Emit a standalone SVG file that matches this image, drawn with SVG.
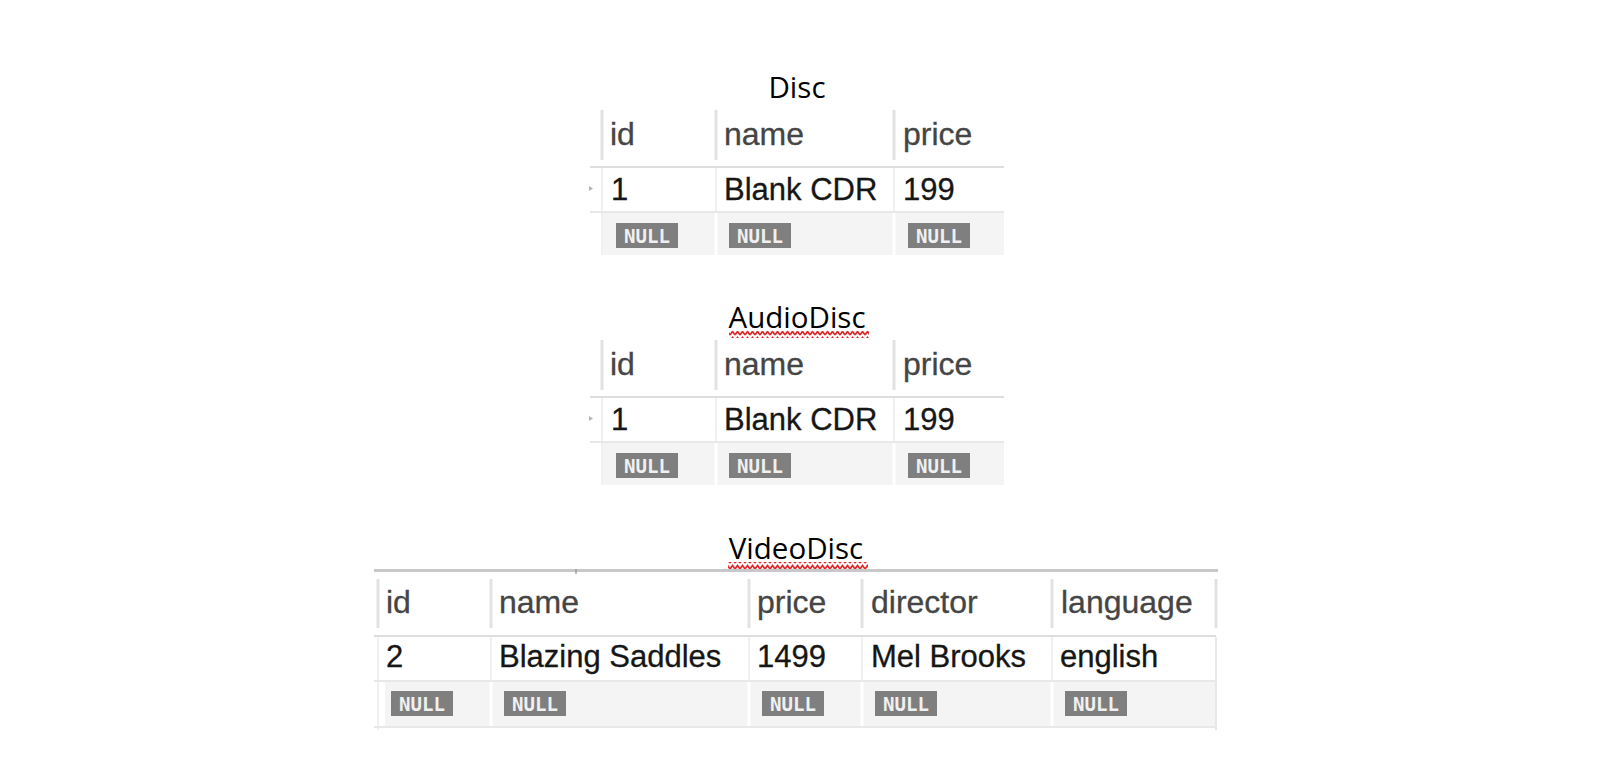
<svg xmlns="http://www.w3.org/2000/svg" width="1602" height="772" viewBox="0 0 1602 772">
<style>
.title{font-family:"Open Sans","Liberation Sans",sans-serif;font-size:29.5px;fill:#000;text-anchor:middle}
.hd{font-family:"Liberation Sans",Arial,sans-serif;font-size:32px;fill:#454545;stroke:#454545;stroke-width:0.3}
.dt{font-family:"Liberation Sans",Arial,sans-serif;font-size:31px;fill:#161616;stroke:#161616;stroke-width:0.3}
.vsep{stroke:#e2e2e2;stroke-width:3}
.hline{stroke:#dedede;stroke-width:2}
.rline{stroke:#e8e8e8;stroke-width:2}
.faint{stroke:#f0f0f0;stroke-width:2}
.nullbg{fill:#f4f4f4}
.wsep{stroke:#ffffff;stroke-width:3}
.badge{fill:#7f7f7f}
.nt{font-family:"DejaVu Sans Mono",monospace;font-weight:bold;font-size:20px;fill:#f0f0f0}
.tri{fill:#b4b4b4}
</style>
<defs>
<pattern id="sq" width="5" height="6" patternUnits="userSpaceOnUse">
<path d="M0,5 L2.5,1.5 L5,5" fill="none" stroke="#e02828" stroke-width="1.6"/>
</pattern>
<g id="nb"><rect class="badge" x="0" y="0" width="62" height="25"/><text class="nt" x="8" y="19.5" textLength="46" lengthAdjust="spacingAndGlyphs">NULL</text></g>
</defs>
<rect width="1602" height="772" fill="#ffffff"/>

<g id="disc">
<text class="title" x="797" y="98">Disc</text>
<rect class="nullbg" x="603" y="213" width="401" height="42"/>
<line class="vsep" x1="602" y1="110" x2="602" y2="160"/>
<line class="vsep" x1="716" y1="110" x2="716" y2="160"/>
<line class="vsep" x1="894" y1="110" x2="894" y2="160"/>
<line class="faint" x1="602" y1="168" x2="602" y2="255"/>
<line class="faint" x1="716" y1="168" x2="716" y2="212"/>
<line class="faint" x1="894" y1="168" x2="894" y2="212"/>
<line class="wsep" x1="716" y1="213" x2="716" y2="255"/>
<line class="wsep" x1="894" y1="213" x2="894" y2="255"/>
<line class="hline" x1="590" y1="167" x2="1004" y2="167"/>
<line class="rline" x1="590" y1="212" x2="1004" y2="212"/>
<text class="hd" x="610" y="145">id</text>
<text class="hd" x="724" y="145">name</text>
<text class="hd" x="903" y="145">price</text>
<path class="tri" d="M589,186 L593,188.5 L589,191 Z"/>
<text class="dt" x="611" y="200">1</text>
<text class="dt" x="724" y="200">Blank CDR</text>
<text class="dt" x="903" y="200">199</text>
<use href="#nb" x="616" y="223"/>
<use href="#nb" x="729" y="223"/>
<use href="#nb" x="908" y="223"/>
</g>

<g id="audiodisc">
<text class="title" x="797" y="328">AudioDisc</text>
<rect x="729" y="331" width="140" height="7" fill="url(#sq)"/>
<rect class="nullbg" x="603" y="443" width="401" height="42"/>
<line class="vsep" x1="602" y1="340" x2="602" y2="390"/>
<line class="vsep" x1="716" y1="340" x2="716" y2="390"/>
<line class="vsep" x1="894" y1="340" x2="894" y2="390"/>
<line class="faint" x1="602" y1="398" x2="602" y2="485"/>
<line class="faint" x1="716" y1="398" x2="716" y2="442"/>
<line class="faint" x1="894" y1="398" x2="894" y2="442"/>
<line class="wsep" x1="716" y1="443" x2="716" y2="485"/>
<line class="wsep" x1="894" y1="443" x2="894" y2="485"/>
<line class="hline" x1="590" y1="397" x2="1004" y2="397"/>
<line class="rline" x1="590" y1="442" x2="1004" y2="442"/>
<text class="hd" x="610" y="375">id</text>
<text class="hd" x="724" y="375">name</text>
<text class="hd" x="903" y="375">price</text>
<path class="tri" d="M589,416 L593,418.5 L589,421 Z"/>
<text class="dt" x="611" y="430">1</text>
<text class="dt" x="724" y="430">Blank CDR</text>
<text class="dt" x="903" y="430">199</text>
<use href="#nb" x="616" y="453"/>
<use href="#nb" x="729" y="453"/>
<use href="#nb" x="908" y="453"/>
</g>

<g id="videodisc">
<text class="title" x="796" y="559">VideoDisc</text>
<rect x="728" y="562" width="140" height="7" fill="url(#sq)"/>
<line x1="374" y1="570.5" x2="1218" y2="570.5" stroke="#c8c8c8" stroke-width="3"/>
<line x1="576" y1="569" x2="576" y2="574" stroke="#808080" stroke-width="1"/>
<rect class="nullbg" x="385" y="682" width="830" height="44"/>
<line class="vsep" x1="378" y1="579" x2="378" y2="628"/>
<line class="vsep" x1="491" y1="579" x2="491" y2="628"/>
<line class="vsep" x1="749" y1="579" x2="749" y2="628"/>
<line class="vsep" x1="862" y1="579" x2="862" y2="628"/>
<line class="vsep" x1="1052" y1="579" x2="1052" y2="628"/>
<line class="vsep" x1="1216" y1="579" x2="1216" y2="628"/>
<line class="faint" x1="378" y1="637" x2="378" y2="730"/>
<line class="faint" x1="491" y1="637" x2="491" y2="681"/>
<line class="faint" x1="749" y1="637" x2="749" y2="681"/>
<line class="faint" x1="862" y1="637" x2="862" y2="681"/>
<line class="faint" x1="1052" y1="637" x2="1052" y2="681"/>
<line class="rline" x1="1216" y1="637" x2="1216" y2="730"/>
<line class="wsep" x1="491" y1="682" x2="491" y2="726"/>
<line class="wsep" x1="749" y1="682" x2="749" y2="726"/>
<line class="wsep" x1="862" y1="682" x2="862" y2="726"/>
<line class="wsep" x1="1052" y1="682" x2="1052" y2="726"/>
<line class="hline" x1="374" y1="636" x2="1216" y2="636"/>
<line class="rline" x1="374" y1="681" x2="1216" y2="681"/>
<line class="rline" x1="374" y1="727" x2="1216" y2="727"/>
<text class="hd" x="386" y="613">id</text>
<text class="hd" x="499" y="613">name</text>
<text class="hd" x="757" y="613">price</text>
<text class="hd" x="871" y="613">director</text>
<text class="hd" x="1061" y="613">language</text>
<text class="dt" x="386" y="667">2</text>
<text class="dt" x="499" y="667">Blazing Saddles</text>
<text class="dt" x="757" y="667">1499</text>
<text class="dt" x="871" y="667">Mel Brooks</text>
<text class="dt" x="1060" y="667">english</text>
<use href="#nb" x="391" y="691"/>
<use href="#nb" x="504" y="691"/>
<use href="#nb" x="762" y="691"/>
<use href="#nb" x="875" y="691"/>
<use href="#nb" x="1065" y="691"/>
</g>
</svg>
